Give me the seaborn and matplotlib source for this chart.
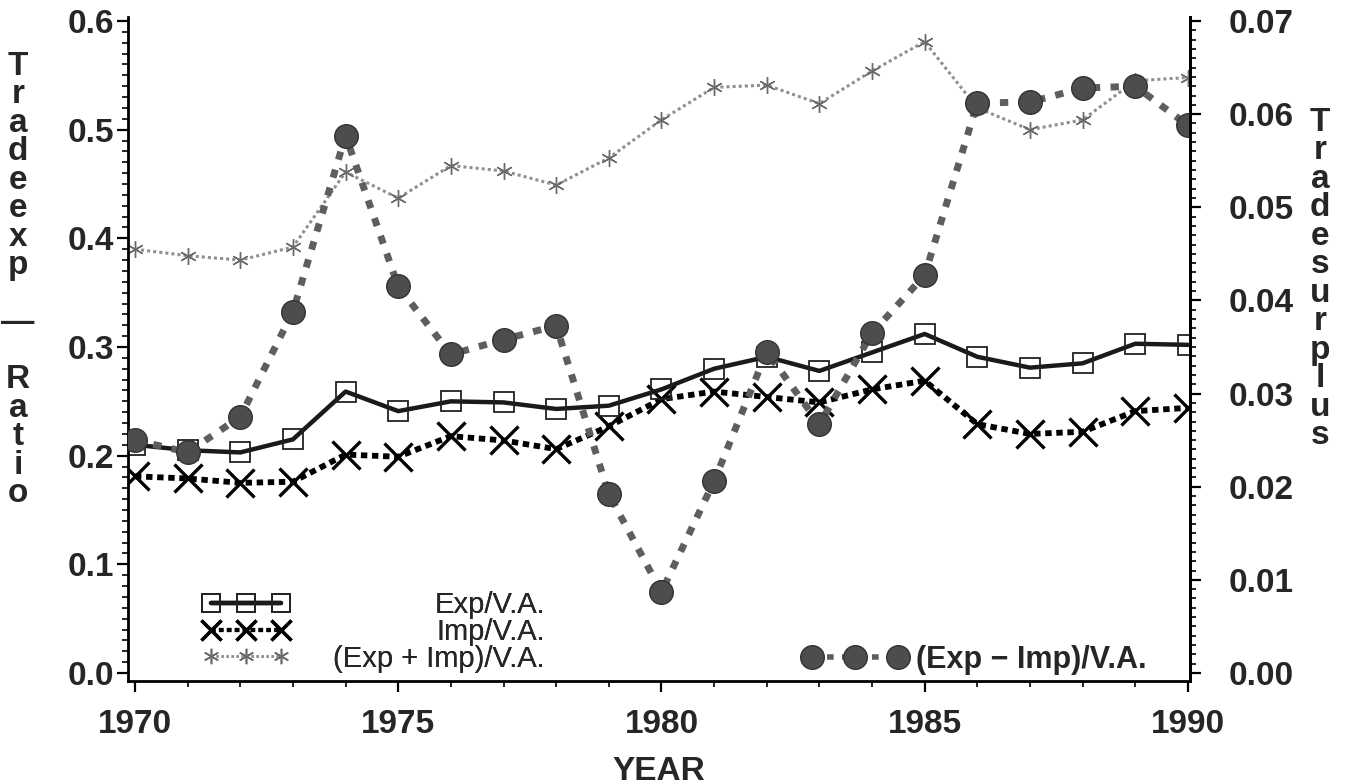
import matplotlib
matplotlib.use("Agg")
import matplotlib.pyplot as plt
from matplotlib.lines import Line2D
from matplotlib.ticker import MultipleLocator, FormatStrFormatter
import seaborn as sns

# values
years = list(range(1970, 1991))
exp_va = [0.210, 0.205, 0.203, 0.215, 0.259, 0.241, 0.250, 0.249, 0.243, 0.246, 0.261,
          0.280, 0.291, 0.278, 0.295, 0.312, 0.291, 0.281, 0.285, 0.303, 0.302]
imp_va = [0.181, 0.179, 0.175, 0.176, 0.201, 0.199, 0.218, 0.214, 0.206, 0.227, 0.252,
          0.259, 0.254, 0.249, 0.261, 0.269, 0.229, 0.220, 0.222, 0.241, 0.244]
sum_va = [0.390, 0.384, 0.380, 0.392, 0.461, 0.437, 0.467, 0.462, 0.449, 0.474, 0.509,
          0.539, 0.541, 0.524, 0.554, 0.581, 0.520, 0.500, 0.509, 0.545, 0.548]
surplus = [0.0250, 0.0237, 0.0275, 0.0388, 0.0577, 0.0415, 0.0342, 0.0358, 0.0373, 0.0192, 0.0087,
           0.0206, 0.0345, 0.0267, 0.0365, 0.0427, 0.0612, 0.0613, 0.0628, 0.0630, 0.0588]

labels = ["Exp/V.A.", "Imp/V.A.", "(Exp + Imp)/V.A.", "(Exp \u2212 Imp)/V.A."]
left_label = "T\nr\na\nd\ne\ne\nx\np\n\n\u2014\n\nR\na\nt\ni\no"
right_label = "T\nr\na\nd\ne\ns\nu\nr\np\nl\nu\ns"

sns.set_style("ticks")
plt.rcParams["font.family"] = ["Liberation Sans", "DejaVu Sans"]

W, H = 1345, 784
fig = plt.figure(figsize=(W / 100, H / 100), dpi=100)
ax = fig.add_axes([128 / W, (H - 681) / H, (1190 - 128) / W, (681 - 17) / H])
ax2 = ax.twinx()

# styles
exp_kw = dict(color="#1a1a1a", linewidth=3.2, linestyle="-", marker="s", markersize=15,
              markerfacecolor="none", markeredgecolor="#222222", markeredgewidth=1.3)
imp_kw = dict(color="black", linewidth=4.2, linestyle=(0, (1.1, 0.8)), marker="x", markersize=20,
              markeredgecolor="black", markeredgewidth=2.4)
sum_kw = dict(color="#909090", linewidth=2.2, linestyle=(0, (1, 1)), marker=(6, 2, 0), markersize=12,
              markeredgecolor="#6a6a6a", markeredgewidth=1.0)
sur_kw = dict(color="#5e5e5e", linewidth=5, linestyle=(0, (1.2, 1.5)), marker="o", markersize=17,
              markerfacecolor="#4d4d4d", markeredgecolor="#333333", markeredgewidth=1.0)

sns.lineplot(x=years, y=sum_va, ax=ax, **sum_kw)
sns.lineplot(x=years, y=imp_va, ax=ax, **imp_kw)
sns.lineplot(x=years, y=exp_va, ax=ax, **exp_kw)
sns.lineplot(x=years, y=surplus, ax=ax2, **sur_kw)

# axes ranges and ticks
ax.set_xlim(1969.867, 1990.04)
ax.set_ylim(-0.00736, 0.6037)
ax2.set_ylim(-0.00736 * 0.07 / 0.6, 0.6037 * 0.07 / 0.6)

ax.set_xticks(range(1970, 1991, 5))
ax.xaxis.set_minor_locator(MultipleLocator(1))
ax.yaxis.set_major_locator(MultipleLocator(0.1))
ax.yaxis.set_minor_locator(MultipleLocator(0.01))
ax.yaxis.set_major_formatter(FormatStrFormatter("%.1f"))
ax2.yaxis.set_major_locator(MultipleLocator(0.01))
ax2.yaxis.set_minor_locator(MultipleLocator(0.001))
ax2.yaxis.set_major_formatter(FormatStrFormatter("%.2f"))

for a in (ax, ax2):
    a.set_xlabel("")
    a.set_ylabel("")
    a.spines["top"].set_visible(False)
    for s in a.spines.values():
        s.set_linewidth(2)
        s.set_color("black")
    a.tick_params(which="major", length=8, width=1.6, color="black", labelsize=24, direction="out")
    a.tick_params(which="minor", length=4, width=1.2, color="black", direction="out")
ax.tick_params(axis="x", pad=12)
ax.tick_params(axis="y", pad=2)
ax2.tick_params(axis="y", pad=20)
ax2.spines["left"].set_visible(False)
ax2.spines["bottom"].set_visible(False)
for t in ax.get_xticklabels() + ax.get_yticklabels() + ax2.get_yticklabels():
    t.set_fontweight("bold")

# axis titles
tfont = dict(fontsize=24, fontweight="bold", ha="center", va="center", multialignment="center")
fig.text(18 / W, 1 - 280 / H, left_label, linespacing=0.897, **tfont)
fig.text(1320 / W, 1 - 279 / H, right_label, linespacing=0.897, **tfont)
fig.text(659 / W, 1 - 771 / H, "YEAR", **tfont)

# legends
def handle(kw, **extra):
    d = dict(kw)
    d.update(extra)
    return Line2D([], [], **d)

h_left = [handle(exp_kw, markersize=13), handle(imp_kw, markersize=15, linewidth=3),
          handle(sum_kw, markersize=11, linewidth=1.8)]
leg = ax.legend(h_left, labels[:3], loc="center left", bbox_to_anchor=(202 / W, 1 - 632 / H),
                bbox_transform=fig.transFigure, frameon=False, numpoints=3, fontsize=21,
                handlelength=3.0, handletextpad=1.5, labelspacing=-0.05, borderpad=0,
                borderaxespad=0)
ax.add_artist(leg)

leg2 = ax2.legend([handle(sur_kw, markersize=17, linewidth=4)], labels[3:], loc="center left",
                  bbox_to_anchor=(803 / W, 1 - 660 / H), bbox_transform=fig.transFigure,
                  frameon=False, numpoints=3, handlelength=3.4, handletextpad=0.3,
                  borderpad=0, borderaxespad=0, prop=dict(size=22, weight="bold"))

# right-align the labels of the left legend
fig.canvas.draw()
texts = leg.get_texts()
widths = [t.get_window_extent().width for t in texts]
for t, w in zip(texts, widths):
    t.set_x(max(widths) - w)

plt.savefig("out.png", dpi=100)
